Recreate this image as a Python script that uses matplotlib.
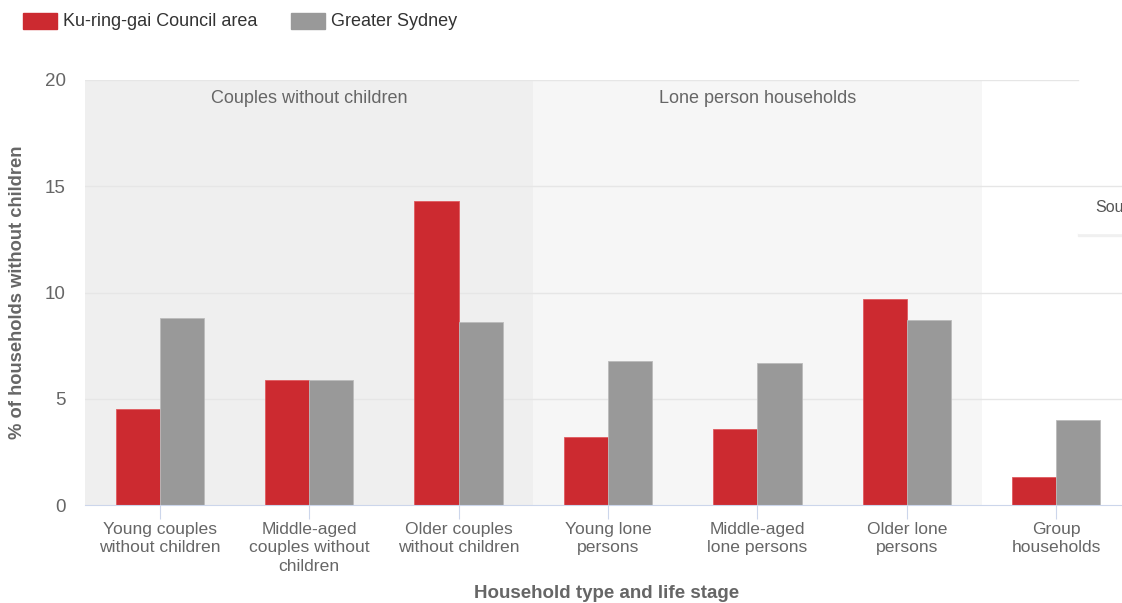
import matplotlib.pyplot as plt
from matplotlib.patches import Rectangle

plt.rcParams['font.family'] = ['Liberation Sans', 'DejaVu Sans']

categories = ["Young couples\nwithout children", "Middle-aged\ncouples without\nchildren",
              "Older couples\nwithout children", "Young lone\npersons", "Middle-aged\nlone persons",
              "Older lone\npersons", "Group\nhouseholds"]
kuringgai = [4.5, 5.9, 14.3, 3.2, 3.6, 9.7, 1.3]
sydney = [8.8, 5.9, 8.6, 6.8, 6.7, 8.7, 4.0]
series_names = ["Ku-ring-gai Council area", "Greater Sydney"]
bands = [("Couples without children", -0.5, 2.5, "#efefef"),
         ("Lone person households", 2.5, 5.5, "#f6f6f6")]
yticks = [0, 5, 10, 15, 20]

W, H = 1122, 603
red, grey, txt = "#cc2a30", "#999999", "#666666"

fig = plt.figure(figsize=(W / 100, H / 100), dpi=100)
# plot area runs past the right edge of the picture, as in the original
left, right, top, bottom = 85, 1131, 80, 505
ax = fig.add_axes([left / W, 1 - bottom / H, (right - left) / W, (bottom - top) / H])

n = len(categories)
ax.set_xlim(-0.5, n - 0.5)
ax.set_ylim(0, 20)

for label, x0, x1, col in bands:
    ax.axvspan(x0, x1, color=col, zorder=0, lw=0)
    ax.text((x0 + x1) / 2, 19.15, label, ha="center", va="center", fontsize=13, color=txt)

for y in yticks[1:]:
    xmax = 0.949 if y == 20 else 1
    ax.axhline(y, xmax=xmax, color="#e6e6e6", lw=1, zorder=1)

w = 0.295
xs = list(range(n))
ax.bar([x - w / 2 for x in xs], kuringgai, width=w, color=red, edgecolor="#e05a5f", lw=0.6, zorder=2)
ax.bar([x + w / 2 for x in xs], sydney, width=w, color=grey, edgecolor="#bbbbbb", lw=0.6, zorder=2)

for s in ["top", "right", "left"]:
    ax.spines[s].set_visible(False)
ax.spines["bottom"].set_color("#ccd6eb")
ax.set_xticks(xs)
ax.set_xticklabels(categories, fontsize=12.6, color=txt, linespacing=1.3)
ax.tick_params(axis="x", length=10, color="#ccd6eb", pad=2)
ax.set_yticks(yticks)
ax.set_yticklabels([str(v) for v in yticks], fontsize=13.5, color=txt)
ax.tick_params(axis="y", length=0, pad=14)

fig.text(18 / W, 1 - 292 / H, "% of households without children", rotation=90, ha="center",
         va="center", fontsize=13.2, fontweight="bold", color=txt)
fig.text(607 / W, 1 - 593 / H, "Household type and life stage", ha="center", va="center",
         fontsize=13.5, fontweight="bold", color=txt)

# legend
for (x0, name, col) in [(23, series_names[0], red), (291, series_names[1], grey)]:
    fig.patches.append(Rectangle((x0 / W, 1 - 29 / H), 34 / W, 16 / H, color=col,
                                 transform=fig.transFigure))
    fig.text((x0 + 40) / W, 1 - 21 / H, name, ha="left", va="center", fontsize=13, color="#333333")

# clipped tooltip at the right edge
fig.patches.append(Rectangle((1078 / W, 1 - 236 / H), 50 / W, 3 / H, color="#f0f0f0",
                             transform=fig.transFigure, zorder=5))
fig.patches.append(Rectangle((1078 / W, 1 - 233 / H), 50 / W, 44 / H, color="white",
                             transform=fig.transFigure, zorder=6))
fig.text(1095 / W, 1 - 207 / H, "Sou", ha="left", va="center", fontsize=11.5,
         color="#555555", zorder=7)

fig.savefig("out.png", dpi=100)
